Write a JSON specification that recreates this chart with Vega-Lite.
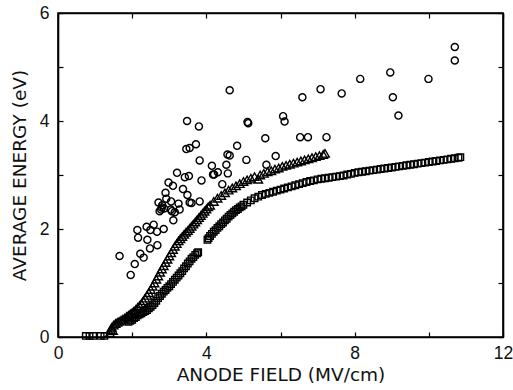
{
  "$schema": "https://vega.github.io/schema/vega-lite/v6.json",
  "autosize": "none",
  "width": 445,
  "height": 324,
  "padding": {"left": 58, "top": 13, "right": 10, "bottom": 53},
  "background": "white",
  "config": {
    "view": {"stroke": "black", "strokeWidth": 1.6},
    "axis": {
      "grid": false,
      "domainColor": "black",
      "domainWidth": 1.6,
      "tickColor": "black",
      "tickWidth": 1.2,
      "tickSize": -5,
      "labelFont": "Liberation Sans",
      "labelFontSize": 17.5,
      "labelColor": "#111",
      "labelOverlap": false,
      "labelFlush": false,
      "titleFont": "DejaVu Sans",
      "titleFontSize": 18.5,
      "titleFontWeight": "normal",
      "titleColor": "#111"
    }
  },
  "datasets": {
    "circles": [
      {"x": 1.66, "y": 1.50}, {"x": 2.07, "y": 1.35}, {"x": 1.96, "y": 1.15}, {"x": 2.14, "y": 1.98},
      {"x": 2.16, "y": 1.84}, {"x": 2.22, "y": 1.54}, {"x": 2.31, "y": 1.47}, {"x": 2.39, "y": 2.04},
      {"x": 2.41, "y": 1.80}, {"x": 2.49, "y": 1.98}, {"x": 2.48, "y": 1.64}, {"x": 2.58, "y": 2.08},
      {"x": 2.67, "y": 1.95}, {"x": 2.68, "y": 1.70}, {"x": 2.71, "y": 2.49}, {"x": 2.74, "y": 2.33},
      {"x": 2.78, "y": 2.36}, {"x": 2.81, "y": 2.44}, {"x": 2.85, "y": 2.00}, {"x": 2.90, "y": 2.67},
      {"x": 2.92, "y": 2.56}, {"x": 2.98, "y": 2.86}, {"x": 3.05, "y": 2.51}, {"x": 3.07, "y": 2.33},
      {"x": 3.10, "y": 2.80}, {"x": 3.11, "y": 2.16}, {"x": 3.15, "y": 2.31}, {"x": 3.21, "y": 3.04},
      {"x": 3.25, "y": 2.47}, {"x": 3.28, "y": 2.36}, {"x": 3.37, "y": 2.74}, {"x": 3.42, "y": 2.96},
      {"x": 3.46, "y": 3.48}, {"x": 3.48, "y": 4.00}, {"x": 3.49, "y": 2.63}, {"x": 3.53, "y": 2.98},
      {"x": 3.55, "y": 3.50}, {"x": 3.55, "y": 2.49}, {"x": 3.60, "y": 2.48}, {"x": 3.72, "y": 3.57},
      {"x": 3.80, "y": 3.90}, {"x": 3.82, "y": 3.27}, {"x": 3.82, "y": 2.51}, {"x": 3.87, "y": 2.90},
      {"x": 4.15, "y": 3.17}, {"x": 4.18, "y": 3.01}, {"x": 4.21, "y": 3.01}, {"x": 4.31, "y": 3.05},
      {"x": 4.43, "y": 2.83}, {"x": 4.54, "y": 3.19}, {"x": 4.58, "y": 3.03}, {"x": 4.63, "y": 3.36},
      {"x": 4.57, "y": 3.38}, {"x": 4.63, "y": 4.57}, {"x": 4.83, "y": 3.54}, {"x": 5.08, "y": 3.28},
      {"x": 5.11, "y": 3.98}, {"x": 5.13, "y": 3.96}, {"x": 5.59, "y": 3.68}, {"x": 5.62, "y": 3.19},
      {"x": 5.87, "y": 3.35}, {"x": 6.07, "y": 4.09}, {"x": 6.11, "y": 3.99}, {"x": 6.53, "y": 3.70},
      {"x": 6.59, "y": 4.44}, {"x": 6.74, "y": 3.70}, {"x": 7.08, "y": 4.59}, {"x": 7.24, "y": 3.70},
      {"x": 7.65, "y": 4.51}, {"x": 8.15, "y": 4.78}, {"x": 8.96, "y": 4.90}, {"x": 9.03, "y": 4.44},
      {"x": 9.18, "y": 4.10}, {"x": 9.99, "y": 4.78}, {"x": 10.70, "y": 5.12}, {"x": 10.70, "y": 5.37},
      {"x": 2.80, "y": 2.40}, {"x": 2.86, "y": 2.38}, {"x": 3.04, "y": 2.36}
    ],
    "triangles": [
      {"x": 1.40, "y": 0.08}, {"x": 1.42, "y": 0.14}, {"x": 1.45, "y": 0.18}, {"x": 1.48, "y": 0.12},
      {"x": 1.50, "y": 0.22}, {"x": 1.55, "y": 0.25}, {"x": 1.60, "y": 0.27}, {"x": 1.65, "y": 0.29},
      {"x": 1.70, "y": 0.31}, {"x": 1.75, "y": 0.33}, {"x": 1.80, "y": 0.35}, {"x": 1.85, "y": 0.38},
      {"x": 1.90, "y": 0.40}, {"x": 1.95, "y": 0.43}, {"x": 2.00, "y": 0.45}, {"x": 2.05, "y": 0.48},
      {"x": 2.10, "y": 0.51}, {"x": 2.15, "y": 0.55}, {"x": 2.20, "y": 0.58}, {"x": 2.25, "y": 0.62},
      {"x": 2.30, "y": 0.67}, {"x": 2.35, "y": 0.72}, {"x": 2.40, "y": 0.77}, {"x": 2.45, "y": 0.82},
      {"x": 2.50, "y": 0.88}, {"x": 2.55, "y": 0.94}, {"x": 2.60, "y": 1.00}, {"x": 2.65, "y": 1.07},
      {"x": 2.70, "y": 1.13}, {"x": 2.75, "y": 1.20}, {"x": 2.80, "y": 1.26}, {"x": 2.85, "y": 1.32},
      {"x": 2.90, "y": 1.38}, {"x": 2.95, "y": 1.44}, {"x": 3.00, "y": 1.50}, {"x": 3.05, "y": 1.56},
      {"x": 3.10, "y": 1.62}, {"x": 3.15, "y": 1.68}, {"x": 3.20, "y": 1.73}, {"x": 3.25, "y": 1.78},
      {"x": 3.30, "y": 1.82}, {"x": 3.35, "y": 1.86}, {"x": 3.40, "y": 1.90}, {"x": 3.45, "y": 1.94},
      {"x": 3.50, "y": 1.97}, {"x": 3.55, "y": 2.01}, {"x": 3.60, "y": 2.05}, {"x": 3.65, "y": 2.09},
      {"x": 3.70, "y": 2.13}, {"x": 3.75, "y": 2.17}, {"x": 3.80, "y": 2.21}, {"x": 3.85, "y": 2.25},
      {"x": 3.90, "y": 2.29}, {"x": 3.95, "y": 2.33}, {"x": 4.00, "y": 2.37}, {"x": 4.05, "y": 2.41},
      {"x": 4.10, "y": 2.44}, {"x": 4.20, "y": 2.51}, {"x": 4.30, "y": 2.57}, {"x": 4.40, "y": 2.62},
      {"x": 4.50, "y": 2.67}, {"x": 4.60, "y": 2.72}, {"x": 4.70, "y": 2.76}, {"x": 4.80, "y": 2.80},
      {"x": 4.90, "y": 2.84}, {"x": 5.00, "y": 2.88}, {"x": 5.10, "y": 2.91}, {"x": 5.20, "y": 2.94},
      {"x": 5.30, "y": 2.97}, {"x": 5.40, "y": 2.92}, {"x": 5.45, "y": 3.00}, {"x": 5.55, "y": 3.03},
      {"x": 5.65, "y": 3.06}, {"x": 5.75, "y": 3.08}, {"x": 5.85, "y": 3.11}, {"x": 5.95, "y": 3.13},
      {"x": 6.05, "y": 3.16}, {"x": 6.15, "y": 3.18}, {"x": 6.25, "y": 3.20}, {"x": 6.35, "y": 3.22},
      {"x": 6.45, "y": 3.24}, {"x": 6.55, "y": 3.26}, {"x": 6.65, "y": 3.28}, {"x": 6.75, "y": 3.30},
      {"x": 6.85, "y": 3.32}, {"x": 6.95, "y": 3.34}, {"x": 7.05, "y": 3.36}, {"x": 7.15, "y": 3.38},
      {"x": 7.20, "y": 3.40}
    ],
    "squares": [
      {"x": 0.75, "y": 0.02}, {"x": 0.85, "y": 0.02}, {"x": 0.95, "y": 0.02}, {"x": 1.15, "y": 0.02},
      {"x": 1.25, "y": 0.02},
      {"x": 1.90, "y": 0.28}, {"x": 1.95, "y": 0.30}, {"x": 2.00, "y": 0.32}, {"x": 2.05, "y": 0.35},
      {"x": 2.10, "y": 0.37}, {"x": 2.15, "y": 0.40}, {"x": 2.20, "y": 0.42}, {"x": 2.25, "y": 0.44},
      {"x": 2.30, "y": 0.46}, {"x": 2.35, "y": 0.48}, {"x": 2.40, "y": 0.50}, {"x": 2.45, "y": 0.53},
      {"x": 2.50, "y": 0.56}, {"x": 2.55, "y": 0.59}, {"x": 2.60, "y": 0.63}, {"x": 2.65, "y": 0.67},
      {"x": 2.70, "y": 0.72}, {"x": 2.75, "y": 0.76}, {"x": 2.80, "y": 0.80}, {"x": 2.85, "y": 0.84},
      {"x": 2.90, "y": 0.87}, {"x": 2.95, "y": 0.91}, {"x": 3.00, "y": 0.94}, {"x": 3.05, "y": 0.98},
      {"x": 3.10, "y": 1.02}, {"x": 3.15, "y": 1.06}, {"x": 3.20, "y": 1.10}, {"x": 3.25, "y": 1.14},
      {"x": 3.30, "y": 1.18}, {"x": 3.35, "y": 1.22}, {"x": 3.40, "y": 1.27}, {"x": 3.45, "y": 1.31},
      {"x": 3.50, "y": 1.36}, {"x": 3.55, "y": 1.40}, {"x": 3.60, "y": 1.45}, {"x": 3.65, "y": 1.48},
      {"x": 3.70, "y": 1.52}, {"x": 3.75, "y": 1.55}, {"x": 3.78, "y": 1.57},
      {"x": 4.03, "y": 1.80}, {"x": 4.06, "y": 1.83}, {"x": 4.10, "y": 1.87}, {"x": 4.15, "y": 1.91},
      {"x": 4.20, "y": 1.95}, {"x": 4.25, "y": 1.98}, {"x": 4.30, "y": 2.02}, {"x": 4.35, "y": 2.05},
      {"x": 4.40, "y": 2.09}, {"x": 4.45, "y": 2.12}, {"x": 4.50, "y": 2.16}, {"x": 4.55, "y": 2.19},
      {"x": 4.60, "y": 2.23}, {"x": 4.65, "y": 2.26}, {"x": 4.70, "y": 2.29}, {"x": 4.75, "y": 2.32},
      {"x": 4.80, "y": 2.35}, {"x": 4.85, "y": 2.37}, {"x": 4.90, "y": 2.40}, {"x": 4.95, "y": 2.42},
      {"x": 5.00, "y": 2.45}, {"x": 5.10, "y": 2.49},
      {"x": 5.20, "y": 2.53}, {"x": 5.30, "y": 2.57}, {"x": 5.40, "y": 2.60}, {"x": 5.50, "y": 2.63},
      {"x": 5.60, "y": 2.65}, {"x": 5.70, "y": 2.67}, {"x": 5.80, "y": 2.69}, {"x": 5.90, "y": 2.71},
      {"x": 6.00, "y": 2.73}, {"x": 6.10, "y": 2.75}, {"x": 6.20, "y": 2.77}, {"x": 6.30, "y": 2.79},
      {"x": 6.40, "y": 2.81}, {"x": 6.50, "y": 2.83}, {"x": 6.60, "y": 2.85}, {"x": 6.70, "y": 2.87},
      {"x": 6.80, "y": 2.89}, {"x": 6.90, "y": 2.90}, {"x": 7.00, "y": 2.92}, {"x": 7.10, "y": 2.93},
      {"x": 7.20, "y": 2.94}, {"x": 7.30, "y": 2.95}, {"x": 7.40, "y": 2.96}, {"x": 7.50, "y": 2.97},
      {"x": 7.60, "y": 2.98}, {"x": 7.70, "y": 2.99}, {"x": 7.80, "y": 3.01}, {"x": 7.90, "y": 3.02},
      {"x": 8.00, "y": 3.04}, {"x": 8.10, "y": 3.05}, {"x": 8.20, "y": 3.06}, {"x": 8.30, "y": 3.07},
      {"x": 8.40, "y": 3.08}, {"x": 8.50, "y": 3.09}, {"x": 8.60, "y": 3.10}, {"x": 8.70, "y": 3.11},
      {"x": 8.80, "y": 3.12}, {"x": 8.90, "y": 3.13}, {"x": 9.00, "y": 3.14}, {"x": 9.10, "y": 3.15},
      {"x": 9.20, "y": 3.16}, {"x": 9.30, "y": 3.17}, {"x": 9.40, "y": 3.18}, {"x": 9.50, "y": 3.19},
      {"x": 9.60, "y": 3.20}, {"x": 9.70, "y": 3.21}, {"x": 9.80, "y": 3.22}, {"x": 9.90, "y": 3.23},
      {"x": 10.00, "y": 3.24}, {"x": 10.10, "y": 3.25}, {"x": 10.20, "y": 3.26}, {"x": 10.30, "y": 3.27},
      {"x": 10.40, "y": 3.28}, {"x": 10.50, "y": 3.29}, {"x": 10.60, "y": 3.30}, {"x": 10.70, "y": 3.31},
      {"x": 10.80, "y": 3.32}, {"x": 10.85, "y": 3.33}
    ]
  },
  "layer": [
    {
      "data": {"name": "circles"},
      "mark": {"type": "point", "shape": "circle", "filled": false, "color": "black", "size": 50, "strokeWidth": 1.4, "opacity": 1},
      "encoding": {
        "x": {"field": "x", "type": "quantitative", "scale": {"domain": [0, 12], "nice": false},
              "axis": {"orient": "bottom", "values": [0, 2, 4, 6, 8, 10, 12], "labelExpr": "datum.value % 4 == 0 ? datum.label : ''", "labelPadding": 12, "title": "ANODE FIELD (MV/cm)", "titlePadding": 4}},
        "y": {"field": "y", "type": "quantitative", "scale": {"domain": [0, 6], "nice": false},
              "axis": {"orient": "left", "values": [0, 1, 2, 3, 4, 5, 6], "labelExpr": "datum.value % 2 == 0 ? datum.label : ''", "labelPadding": 14, "title": "AVERAGE ENERGY (eV)", "titlePadding": 10}}
      }
    },
    {
      "data": {"name": "triangles"},
      "mark": {"type": "point", "shape": "triangle-up", "filled": false, "color": "black", "size": 75, "strokeWidth": 1.4, "opacity": 1},
      "encoding": {
        "x": {"field": "x", "type": "quantitative", "axis": null},
        "y": {"field": "y", "type": "quantitative", "axis": null}
      }
    },
    {
      "data": {"name": "squares"},
      "mark": {"type": "point", "shape": "square", "filled": false, "color": "black", "size": 42, "strokeWidth": 1.4, "opacity": 1},
      "encoding": {
        "x": {"field": "x", "type": "quantitative",
              "axis": {"orient": "top", "values": [0, 2, 4, 6, 8, 10, 12], "labels": false, "title": null}},
        "y": {"field": "y", "type": "quantitative",
              "axis": {"orient": "right", "values": [0, 1, 2, 3, 4, 5, 6], "labels": false, "title": null}}
      }
    }
  ],
  "resolve": {"axis": {"x": "independent", "y": "independent"}}
}
